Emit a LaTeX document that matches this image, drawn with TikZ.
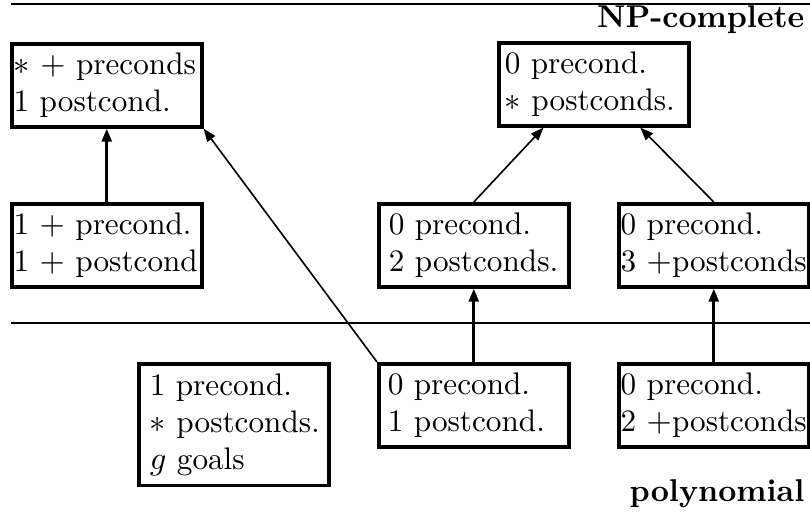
\documentclass[tikz,border=0pt]{standalone}
\usetikzlibrary{arrows.meta,calc}
\begin{document}
\begin{tikzpicture}[x=0.3077pt,y=-0.3077pt,
  box/.style={draw,line width=1.1pt,anchor=north west,align=left,
    minimum height=25.54pt,inner ysep=0pt,
    font=\fontsize{9.6}{11.4}\selectfont},
  box3/.style={box,minimum height=37.5pt},
  thk/.style={line width=0.95pt,-{Triangle[length=4pt,width=3pt]}},
  thn/.style={line width=0.5pt,-{Triangle[length=4pt,width=3pt]}},
  lbl/.style={anchor=east,font=\fontsize{9.7}{12}\selectfont\bfseries,inner sep=0pt}]
\useasboundingbox (0,0) rectangle (810,522);
% separating lines
\draw[line width=0.8pt] (11,4) -- (810,4);
\draw[line width=0.6pt] (11,323) -- (810,323);
\node[lbl] (np) at (805,20) {NP-complete};
\node[lbl] (poly) at (805,494) {polynomial};
% boxes
\node[box,inner xsep=0.6pt,text width=57.26pt] (A) at (10,42)
  {\mbox{$*$ $+$ preconds}\\\mbox{1 postcond.}};
\node[box,inner xsep=1.85pt,text width=54.76pt] (B) at (497,41)
  {\mbox{0 precond.}\\\mbox{$*$ postconds.}};
\node[box,inner xsep=0.6pt,text width=57.26pt] (C) at (10,202)
  {\mbox{1 $+$ precond.}\\\mbox{1 $+$ postcond}};
\node[box,inner xsep=3.1pt,text width=52.26pt] (D) at (377,202)
  {\mbox{0 precond.}\\\mbox{2 postconds.}};
\node[box,inner xsep=0.6pt,text width=57.26pt] (E) at (617,202)
  {\mbox{0 precond.}\\\mbox{3 $+$postconds}};
\node[box3,inner xsep=3.4pt,text width=51.66pt] (F) at (137,362)
  {\mbox{1 precond.}\\\mbox{$*$ postconds.}\\\mbox{$g$ goals}};
\node[box,inner xsep=2.8pt,text width=52.86pt] (G) at (377,362)
  {\mbox{0 precond.}\\\mbox{1 postcond.}};
\node[box,inner xsep=0.6pt,text width=57.26pt] (H) at (617,362)
  {\mbox{0 precond.}\\\mbox{2 $+$postconds}};
% connectors
\draw[thk] (C.north) -- (A.south);
\draw[thn] (G.north west) -- (A.south east);
\draw[thn] (D.north) -- ($(B.south west)!0.24!(B.south east)$);
\draw[thn] (E.north) -- ($(B.south west)!0.74!(B.south east)$);
\draw[thk] (G.north) -- (D.south);
\draw[thk] (H.north) -- (E.south);
\end{tikzpicture}
\end{document}
